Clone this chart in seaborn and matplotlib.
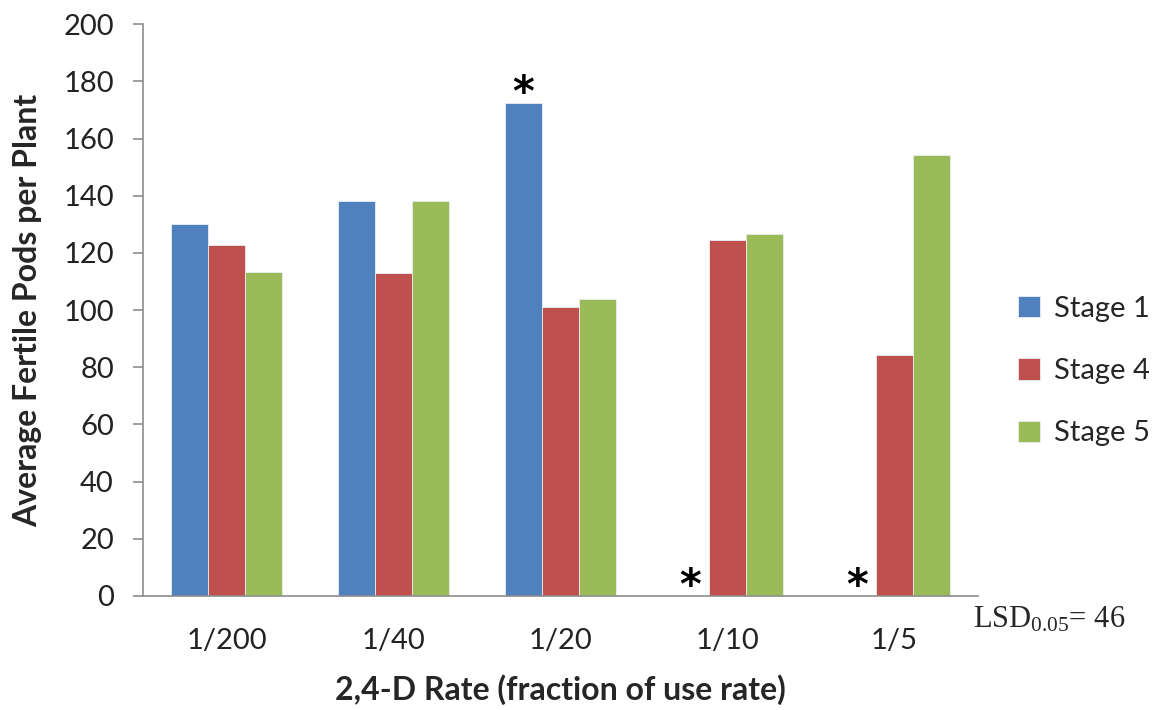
import matplotlib
matplotlib.use("Agg")
import matplotlib.pyplot as plt
import numpy as np
import pandas as pd
import seaborn as sns

# Data
rates = ["1/200", "1/40", "1/20", "1/10", "1/5"]
stages = ["Stage 1", "Stage 4", "Stage 5"]
stage1 = [130.2, 138.1, 172.5, 0, 0]
stage4 = [122.7, 113.0, 100.9, 124.4, 84.3]
stage5 = [113.4, 138.1, 103.7, 126.7, 154.2]
colors = ["#4F81BD", "#C0504D", "#9BBB59"]

df = pd.DataFrame({
    "rate": rates * 3,
    "stage": [s for s in stages for _ in rates],
    "pods": stage1 + stage4 + stage5,
})

sns.set_style("white")
plt.rcParams["font.family"] = ["Lato", "DejaVu Sans"]
plt.rcParams["mathtext.fontset"] = "custom"
plt.rcParams["mathtext.rm"] = "Liberation Serif"
plt.rcParams["mathtext.it"] = "Liberation Serif:italic"

fig = plt.figure(figsize=(11.63, 7.10), dpi=100)
ax = fig.add_axes([0.123, 0.1606, 0.718, 0.8054])

bar_w = 0.665
sns.barplot(data=df, x="rate", y="pods", hue="stage", order=rates, hue_order=stages,
            palette=colors, saturation=1, width=bar_w, gap=0, ax=ax,
            edgecolor="#e8eef5", linewidth=0.6)

ax.set_ylim(0, 200)
ax.set_xlim(-0.5, 4.5)
ax.set_yticks(np.arange(0, 201, 20))
sns.despine(ax=ax)
for side in ["left", "bottom"]:
    ax.spines[side].set_color("#8c8c8c")
    ax.spines[side].set_linewidth(1.2)
ax.tick_params(axis="y", length=7, width=1.2, color="#8c8c8c", pad=14, labelsize=21, left=True)
ax.tick_params(axis="x", length=0, pad=23, labelsize=21)
for lbl in ax.get_xticklabels() + ax.get_yticklabels():
    lbl.set_color("#222222")

ax.set_ylabel("Average Fertile Pods per Plant", fontsize=23, fontweight="bold")
ax.yaxis.set_label_coords(-0.121, 0.5)
ax.set_xlabel("")
fig.text(560 / 1163, 1 - 690 / 710, "2,4-D Rate (fraction of use rate)", fontsize=23,
         fontweight="bold", ha="center", va="center")

# significance asterisks over stage 1 bars
s1_off = -bar_w / 3
for i in [2, 3, 4]:
    ax.text(i + s1_off, stage1[i] + 3, "*", ha="center", va="center", fontsize=30,
            fontweight="bold", color="black", family="DejaVu Sans")

ax.legend(loc="center left", bbox_to_anchor=(1018 / 1163, 1 - 371 / 710),
          bbox_transform=fig.transFigure, frameon=False, fontsize=21,
          handlelength=0.75, handleheight=0.75, labelspacing=1.25, handletextpad=0.5,
          borderpad=0, borderaxespad=0)

fig.text(973 / 1163, 1 - 627 / 710, r"LSD$_{\mathrm{0.05}}$= 46", fontsize=22,
         family="Liberation Serif", ha="left", va="baseline")

fig.savefig("out.png", dpi=100)
